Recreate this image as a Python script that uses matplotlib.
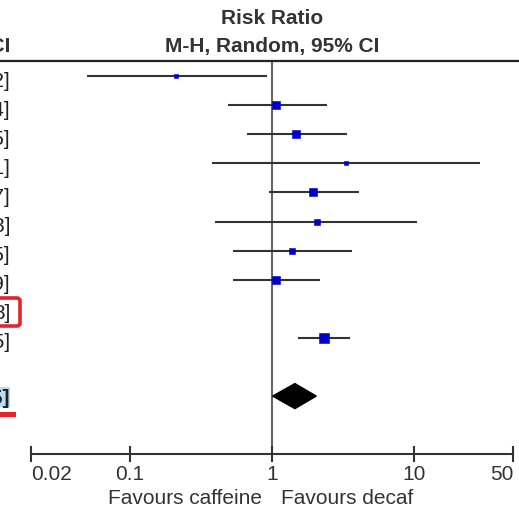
import numpy as np
import matplotlib
matplotlib.use("Agg")
import matplotlib.pyplot as plt
from matplotlib.patches import FancyBboxPatch, Rectangle
from matplotlib.transforms import IdentityTransform, blended_transform_factory

plt.rcParams['font.family'] = ['Liberation Sans', 'DejaVu Sans']

# Study-level risk ratios (M-H, random effects) with 95% CI
estimates = [0.21, 1.07, 1.48, 3.32, 1.94, 2.07, 1.38, 1.07, np.nan, 2.32]
lower = [0.05, 0.49, 0.67, 0.38, 0.95, 0.40, 0.53, 0.53, np.nan, 1.52]
upper = [0.92, 2.44, 3.35, 29.21, 4.07, 10.58, 3.65, 2.19, np.nan, 3.55]
weights = [5.3, 11.9, 14.2, 4.3, 12.5, 7.6, 8.9, 11.9, 0.0, 23.4]
extra_labels = {8: "8]"}

# Pooled estimate
total_est, total_lo, total_hi = 1.45, 1.01, 2.05

ticks = [0.02, 0.1, 1, 10, 50]
tick_labels = ["0.02", "0.1", "1", "10", "50"]
header_top = "Risk Ratio"
header_sub = "M-H, Random, 95% CI"
favours_left = "Favours caffeine"
favours_right = "Favours decaf"

W, H = 519, 510
X_ONE, DECADE = 272, 142      # pixel of RR=1 and pixels per decade
Y0, ROW = 77, 29.1            # pixel of first row and row pitch


def xv(px):
    return 10 ** ((px - X_ONE) / DECADE)


def yv(py):
    return (py - Y0) / ROW


fig = plt.figure(figsize=(W / 100, H / 100), dpi=100)
ax = fig.add_axes([0, 0, 1, 1])
ax.set_xscale('log')
ax.set_xlim(xv(0), xv(W))
ax.set_ylim(yv(H), yv(0))
ax.axis('off')

text_c = '#333333'
line_c = '#333333'
left_tr = blended_transform_factory(ax.transAxes, ax.transData)

# header
hy = yv(62)
ax.axhline(hy, color='#222222', lw=1.6, zorder=2)
ax.text(1, yv(18.5), header_top, ha='center', va='center', fontsize=15,
        fontweight='bold', color=text_c)
ax.text(1, yv(47), header_sub, ha='center', va='center', fontsize=15,
        fontweight='bold', color=text_c)
ax.text(10 / W, yv(47), header_sub, ha='right', va='center', fontsize=15,
        fontweight='bold', color=text_c, transform=left_tr)

# line of no effect
n_axis = 13
ax.plot([1, 1], [hy, n_axis], color='#666666', lw=1.5, zorder=1)

# studies
for i, (e, lo, hi, w) in enumerate(zip(estimates, lower, upper, weights)):
    if np.isfinite(e):
        ax.plot([lo, hi], [i, i], color=line_c, lw=1.5, solid_capstyle='butt', zorder=2)
        side = 2.17 * np.sqrt(w) * 0.72
        ax.plot(e, i, 's', ms=side, mfc='#0000cc', mec='#0000cc', mew=0.4, zorder=3)
        label = f"{e:.2f} [{lo:.2f}, {hi:.2f}]"
    else:
        label = extra_labels.get(i, "")
    ax.text(10 / W, i + 0.14, label, ha='right', va='center', fontsize=15,
            color='#222222', transform=left_tr)

# pooled diamond
ty = 11
dh = 0.43
ax.fill([total_lo, total_est, total_hi, total_est], [ty, ty - dh, ty, ty + dh],
        color='black', zorder=3)
# selection highlight behind the pooled label (drawn beneath the axes)
fig.patches.append(Rectangle((0, H - 408), 10, 20, transform=IdentityTransform(),
                             facecolor='#b9dcf7', edgecolor='none', zorder=-1))
ax.text(10 / W, ty + 0.04, f"{total_est:.2f} [{total_lo:.2f}, {total_hi:.2f}]",
        ha='right', va='center', fontsize=15, fontweight='bold', color='#222222',
        transform=left_tr, zorder=4)

# x axis
ax.plot([ticks[0], ticks[-1]], [n_axis, n_axis], color=line_c, lw=1.5, zorder=2)
for k, (t, tl) in enumerate(zip(ticks, tick_labels)):
    ax.plot([t, t], [n_axis - 0.24, n_axis + 0.24], color=line_c, lw=1.5, zorder=2)
    ha = 'left' if k == 0 else ('right' if k == len(ticks) - 1 else 'center')
    ax.text(t, yv(475), tl, ha=ha, va='center', fontsize=15, color=text_c)
ax.text(xv(262), yv(499), favours_left, ha='right', va='center', fontsize=15,
        color=text_c)
ax.text(xv(281), yv(499), favours_right, ha='left', va='center', fontsize=15,
        color=text_c)

# red highlight marks
red = '#e3242b'
fig.patches.append(FancyBboxPatch((-20, H - 327), 40, 28,
                                  boxstyle='round,pad=0,rounding_size=3',
                                  transform=IdentityTransform(), fill=False,
                                  edgecolor=red, lw=2.6, zorder=5))
fig.patches.append(Rectangle((0, H - 417.5), 16, 4.5, transform=IdentityTransform(),
                             facecolor=red, edgecolor='none', zorder=5))

fig.savefig('out.png', dpi=100)
